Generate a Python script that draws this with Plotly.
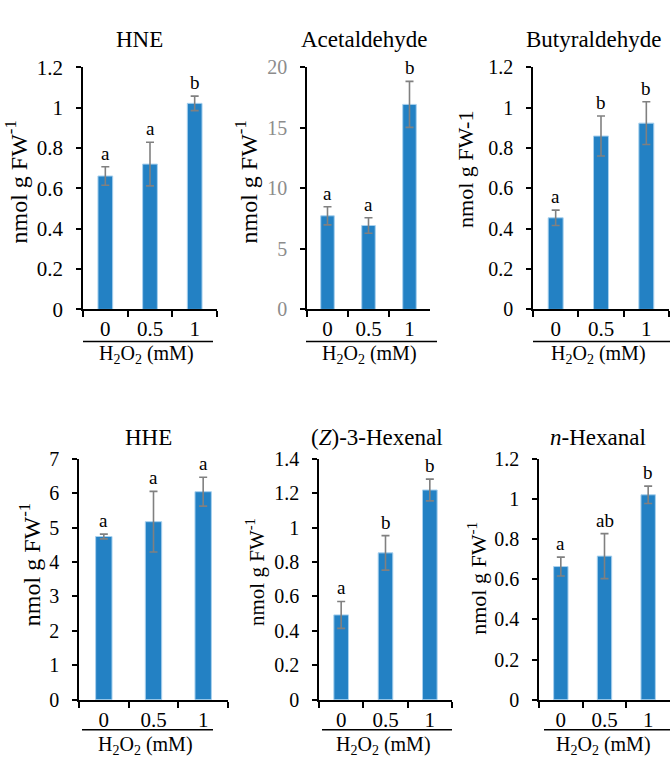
import plotly.graph_objects as go

FONT = "Liberation Serif"
W, H = 670, 769

doses = ["0", "0.5", "1"]

hne_mean = [0.661, 0.72, 1.021]
hne_err = [0.046, 0.108, 0.036]
hne_letters = ["a", "a", "b"]

acet_mean = [7.73, 6.93, 16.93]
acet_err = [0.75, 0.64, 1.9]
acet_letters = ["a", "a", "b"]

buty_mean = [0.454, 0.859, 0.923]
buty_err = [0.038, 0.099, 0.106]
buty_letters = ["a", "b", "b"]

hhe_mean = [4.74, 5.17, 6.04]
hhe_err = [0.07, 0.88, 0.42]
hhe_letters = ["a", "a", "a"]

hex3_mean = [0.493, 0.853, 1.218]
hex3_err = [0.078, 0.10, 0.063]
hex3_letters = ["a", "b", "b"]

nhex_mean = [0.663, 0.715, 1.02]
nhex_err = [0.047, 0.112, 0.043]
nhex_letters = ["a", "ab", "b"]

titles = ["HNE", "Acetaldehyde", "Butyraldehyde", "HHE",
          "(<i>Z</i>)-3-Hexenal", "<i>n</i>-Hexanal"]
ylabels = ["nmol g FW<sup>-1</sup>", "nmol g FW<sup>-1</sup>", "nmol g FW-1",
           "nmol g FW<sup>-1</sup>", "nmol g FW<sup>-1</sup>", "nmol g FW<sup>-1</sup>"]
xlabel = "H<sub>2</sub>O<sub>2</sub> (mM)"
ymax = [1.2, 20, 1.2, 7, 1.4, 1.2]
dticks = [0.2, 5, 0.2, 1, 0.2, 0.2]

series = [
    (hne_mean, hne_err, hne_letters),
    (acet_mean, acet_err, acet_letters),
    (buty_mean, buty_err, buty_letters),
    (hhe_mean, hhe_err, hhe_letters),
    (hex3_mean, hex3_err, hex3_letters),
    (nhex_mean, nhex_err, nhex_letters),
]

# layout geometry (pixels)
plot_px = [  # x0, x1, ytop, ybottom
    (83, 217, 57, 307),
    (307, 430, 57, 307),
    (533, 669, 57, 307),
    (79, 228, 461, 710),
    (319, 452, 461, 710),
    (539, 670, 461, 710),
]
ytick_size = [21, 20, 20, 20, 20, 20]
title_px = [(139, 28), (364, 28), (593, 28), (148, 439), (377, 439), (598, 439)]
ylab_px = [(16, 176, 24), (246, 176, 24), (466, 163, 22), (30, 571, 24), (256, 578, 21), (477, 585, 22)]
sep_px = [(83, 213, 340), (306, 437, 340), (533, 670, 340),
          (82, 213, 741), (322, 452, 741), (544, 670, 741)]
xlab_px = [(146, 354), (369, 354), (598, 354), (145, 757), (383, 757), (603, 757)]

BAR = "#2381c4"
EDGE = "#a9d1ee"
ERR = "#808080"

fig = go.Figure()
layout = dict(
    width=W, height=H,
    margin=dict(l=0, r=0, t=0, b=0),
    paper_bgcolor="white", plot_bgcolor="white",
    showlegend=False,
    font=dict(family=FONT, color="black"),
)
annotations = []
shapes = []

for i, (mean, err, letters) in enumerate(series):
    n = i + 1
    xa = "x" if n == 1 else f"x{n}"
    ya = "y" if n == 1 else f"y{n}"
    fig.add_trace(go.Bar(
        x=doses, y=mean, xaxis=xa, yaxis=ya, width=0.33,
        marker=dict(color=BAR, line=dict(color=EDGE, width=1)),
        error_y=dict(type="data", array=err, color=ERR, thickness=1.6, width=4),
    ))
    x0, x1, yt, yb = plot_px[i]
    tick_col = "#8c8c8c" if i == 1 else "black"
    layout["xaxis" if n == 1 else f"xaxis{n}"] = dict(
        domain=[x0 / W, x1 / W], anchor=ya, type="category",
        range=[-0.5, 2.5], tickson="boundaries", ticks="outside",
        ticklen=6, tickwidth=1.5, tickcolor="black",
        showline=True, linecolor="black", linewidth=1.5,
        showgrid=False, zeroline=False,
        tickfont=dict(family=FONT, size=21, color="black"),
    )
    layout["yaxis" if n == 1 else f"yaxis{n}"] = dict(
        domain=[1 - yb / H, 1 - yt / H], anchor=xa,
        range=[0, ymax[i]], dtick=dticks[i], ticks="outside",
        ticklen=5, tickwidth=1.5, tickcolor="black",
        showline=True, linecolor="black", linewidth=1.5,
        showgrid=False, zeroline=False, ticklabelstandoff=9,
        tickfont=dict(family=FONT, size=ytick_size[i], color=tick_col),
    )
    # significance letters (x given as category index)
    for k, (m, e, L) in enumerate(zip(mean, err, letters)):
        annotations.append(dict(
            x=k, y=m + e, xref=xa, yref=ya, text=L, showarrow=False,
            yanchor="bottom", yshift=1,
            font=dict(family=FONT, size=19, color="black"),
        ))
    # title
    tx, ty = title_px[i]
    annotations.append(dict(
        x=tx / W, y=1 - ty / H, xref="paper", yref="paper", text=titles[i],
        showarrow=False, xanchor="center", yanchor="middle",
        font=dict(family=FONT, size=23, color="black"),
    ))
    # y label
    lx, ly, ls = ylab_px[i]
    annotations.append(dict(
        x=lx / W, y=1 - ly / H, xref="paper", yref="paper", text=ylabels[i],
        showarrow=False, textangle=-90, xanchor="center", yanchor="middle",
        font=dict(family=FONT, size=ls, color="black"),
    ))
    # x label
    bx, by = xlab_px[i]
    annotations.append(dict(
        x=bx / W, y=1 - by / H, xref="paper", yref="paper", text=xlabel,
        showarrow=False, xanchor="center", yanchor="middle",
        font=dict(family=FONT, size=20, color="black"),
    ))
    sx0, sx1, sy = sep_px[i]
    shapes.append(dict(
        type="line", xref="paper", yref="paper",
        x0=sx0 / W, x1=sx1 / W, y0=1 - sy / H, y1=1 - sy / H,
        line=dict(color="black", width=1.5),
    ))

layout["annotations"] = annotations
layout["shapes"] = shapes
fig.update_layout(**layout)
fig.write_html("out.html", config={"displayModeBar": False},
               post_script="document.body.style.margin='0';document.body.style.overflow='hidden';")
